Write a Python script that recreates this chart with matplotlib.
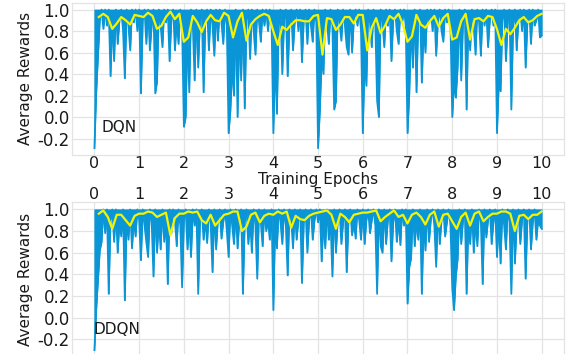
import numpy as np
import matplotlib
matplotlib.use("Agg")
import matplotlib.pyplot as plt

# ---------------- data ----------------
epoch_ticks = [0, 1, 2, 3, 4, 5, 6, 7, 8, 9, 10]
y_ticks = [-0.2, 0.0, 0.2, 0.4, 0.6, 0.8, 1.0]
reward_cap = 1.0

dqn_raw = [
    -0.29, 0.22, 0.57, 0.9, 1.0, 0.82, 1.0, 0.85, 1.0, 0.38, 0.9, 0.52, 1.0, 0.68, 0.9, 1.0, 0.8, 0.36, 1.0, 0.85, 0.62, 1.0, 0.88, 1.0, 0.8,
    1.0, 0.22, 0.9, 1.0, 0.68, 1.0, 0.62, 0.85, 1.0, 0.22, 0.33, 1.0, 0.85, 0.65, 1.0, 0.88, 1.0, 0.52, 0.9, 1.0, 0.62, 0.9, 0.68, 1.0, 0.85,
    -0.09, 0.0, 0.8, 0.23, 1.0, 0.85, 0.34, 1.0, 0.46, 0.9, 1.0, 0.23, 0.9, 1.0, 0.62, 1.0, 0.85, 0.57, 1.0, 0.71, 1.0, 0.88, 0.68, 1.0, 0.85,
    -0.15, 0.06, 0.46, 0.2, 1.0, 0.0, 0.85, 0.34, 1.0, 0.08, 0.9, 1.0, 0.54, 1.0, 0.8, 0.58, 1.0, 0.88, 0.7, 1.0, 0.85, 1.0, 0.8, 1.0, 0.88,
    -0.15, 0.52, 0.03, 0.85, 1.0, 0.4, 0.9, 1.0, 0.38, 0.85, 1.0, 0.62, 0.9, 1.0, 0.8, 1.0, 0.51, 0.9, 1.0, 0.68, 1.0, 0.85, 0.7, 1.0, 0.88,
    -0.29, 0.06, 0.54, 0.4, 1.0, 0.88, 0.68, 1.0, 0.85, 0.07, 0.15, 1.0, 0.88, 0.71, 1.0, 0.85, 0.65, 0.58, 1.0, 0.6, 0.9, 1.0, 0.85, 1.0, 0.8,
    -0.15, 0.52, 0.29, 1.0, 0.88, 0.65, 1.0, 0.85, 0.15, 0.0, 1.0, 0.88, 0.65, 1.0, 0.85, 1.0, 0.52, 0.9, 1.0, 0.8, 0.68, 1.0, 0.88, 1.0, 0.85,
    -0.15, 0.22, 0.85, 0.46, 1.0, 0.23, 0.9, 1.0, 0.32, 0.85, 0.6, 1.0, 0.88, 1.0, 0.8, 1.0, 0.57, 0.9, 1.0, 0.8, 0.7, 1.0, 0.88, 1.0, 0.85,
    0.0, 0.31, 0.18, 0.46, 1.0, 0.34, 0.88, 1.0, 0.07, 0.9, 0.62, 1.0, 0.85, 0.58, 1.0, 0.88, 0.57, 1.0, 0.85, 1.0, 0.65, 0.9, 1.0, 0.85, 1.0,
    -0.15, 0.31, 0.24, 0.9, 1.0, 0.52, 0.88, 1.0, 0.07, 0.85, 1.0, 0.62, 0.9, 1.0, 0.8, 1.0, 0.46, 0.88, 1.0, 0.68, 1.0, 0.85, 0.9, 1.0, 0.74,
    0.76,
]

dqn_avg = [
    0.93, 0.96, 0.93, 0.82, 0.87, 0.93, 0.90, 0.86, 0.95, 0.94,
    0.93, 0.97, 0.94, 0.82, 0.85, 0.93, 0.98, 0.91, 0.96, 0.70,
    0.74, 0.94, 0.88, 0.79, 0.89, 0.95, 0.90, 0.89, 0.97, 0.94,
    0.74, 0.89, 0.97, 0.71, 0.86, 0.91, 0.94, 0.96, 0.94, 0.80,
    0.67, 0.84, 0.81, 0.86, 0.90, 0.90, 0.89, 0.89, 0.94, 0.95,
    0.58, 0.92, 0.91, 0.81, 0.86, 0.93, 0.93, 0.87, 0.95, 0.95,
    0.62, 0.83, 0.92, 0.78, 0.85, 0.94, 0.91, 0.96, 0.86, 0.70,
    0.75, 0.95, 0.86, 0.83, 0.89, 0.94, 0.84, 0.92, 0.96, 0.72,
    0.74, 0.89, 0.96, 0.72, 0.91, 0.92, 0.89, 0.94, 0.93, 0.82,
    0.67, 0.82, 0.77, 0.83, 0.90, 0.93, 0.88, 0.90, 0.94, 0.96,
]

ddqn_raw = [
    -0.3, 0.07, 0.35, 0.62, 0.7, 1.0, 0.78, 1.0, 0.22, 0.9, 1.0, 0.7, 1.0, 0.6, 0.88, 0.75, 1.0, 0.16, 0.9, 0.72, 1.0, 0.64, 0.9, 0.75, 1.0,
    0.9, 0.53, 1.0, 0.85, 0.7, 0.56, 1.0, 0.88, 0.38, 1.0, 0.6, 0.9, 0.63, 1.0, 0.7, 0.88, 0.31, 1.0, 0.78, 1.0, 0.9, 0.66, 1.0, 0.85, 0.28,
    0.9, 1.0, 0.63, 0.88, 0.56, 1.0, 0.85, 1.0, 0.22, 0.9, 1.0, 0.72, 0.9, 0.69, 1.0, 0.85, 0.42, 1.0, 0.63, 0.9, 1.0, 0.73, 0.88, 1.0, 0.8,
    0.56, 1.0, 0.85, 0.68, 1.0, 0.64, 0.9, 1.0, 0.22, 0.88, 1.0, 0.68, 0.9, 0.6, 1.0, 0.85, 0.36, 1.0, 0.88, 0.66, 1.0, 0.8, 0.9, 0.72, 1.0,
    0.07, 0.85, 0.64, 1.0, 0.88, 0.68, 1.0, 0.85, 0.39, 1.0, 0.9, 0.64, 1.0, 0.72, 0.9, 1.0, 0.32, 0.88, 1.0, 0.6, 0.9, 1.0, 0.72, 0.9, 1.0,
    0.88, 1.0, 0.52, 0.9, 0.64, 1.0, 0.72, 0.88, 0.38, 1.0, 0.6, 0.9, 1.0, 0.68, 0.88, 1.0, 0.42, 0.9, 1.0, 0.76, 0.88, 0.73, 1.0, 0.9, 0.72,
    1.0, 0.68, 0.9, 1.0, 0.78, 0.9, 1.0, 0.85, 0.22, 1.0, 0.66, 0.6, 1.0, 0.68, 0.9, 1.0, 0.52, 0.88, 1.0, 0.7, 0.9, 0.67, 1.0, 0.85, 1.0,
    0.13, 0.47, 0.55, 1.0, 0.66, 0.9, 0.72, 1.0, 0.22, 0.88, 0.62, 1.0, 0.7, 0.9, 1.0, 0.85, 0.47, 1.0, 0.68, 0.9, 1.0, 0.75, 0.88, 1.0, 0.85,
    0.27, 0.07, 0.38, 0.54, 1.0, 0.68, 0.9, 1.0, 0.22, 0.88, 0.68, 1.0, 0.6, 0.9, 0.66, 1.0, 0.88, 0.31, 1.0, 0.74, 0.9, 1.0, 0.68, 0.88, 1.0,
    0.56, 0.9, 0.5, 1.0, 0.85, 0.63, 1.0, 0.88, 0.22, 1.0, 0.5, 0.85, 1.0, 0.68, 0.9, 1.0, 0.36, 0.9, 1.0, 0.63, 0.88, 1.0, 0.72, 0.9, 0.85,
    0.82,
]

ddqn_avg = [
    0.96, 0.99, 0.93, 0.82, 0.95, 0.95, 0.90, 0.85, 0.94, 0.96,
    0.96, 0.98, 0.97, 0.93, 0.95, 0.97, 0.76, 0.92, 0.96, 0.96,
    0.98, 0.97, 0.98, 0.90, 0.87, 0.95, 0.85, 0.90, 0.95, 0.96,
    0.98, 0.98, 0.80, 0.84, 0.95, 0.97, 0.88, 0.94, 0.96, 0.95,
    0.98, 0.96, 0.98, 0.83, 0.94, 0.91, 0.90, 0.94, 0.96, 0.97,
    0.98, 0.99, 0.95, 0.82, 0.96, 0.93, 0.88, 0.95, 0.96, 0.97,
    0.97, 0.98, 0.99, 0.89, 0.93, 0.96, 0.99, 0.93, 0.95, 0.87,
    0.95, 0.97, 0.93, 0.86, 0.95, 0.98, 0.84, 0.95, 0.96, 0.89,
    0.82, 0.93, 0.97, 0.85, 0.96, 0.98, 0.89, 0.93, 0.96, 0.96,
    0.98, 0.98, 0.96, 0.80, 0.94, 0.95, 0.91, 0.95, 0.95, 0.98,
]

labels = ["DQN", "DDQN"]

# ---------------- style ----------------
BLUE = "#0a96d6"
YELLOW = "#f4f400"
GRID = "#e3e3e3"
TXT = "#1a1a1a"
plt.rcParams["font.family"] = ["DejaVu Sans"]

fig = plt.figure(figsize=(5.66, 3.54), dpi=100)
ax_top = fig.add_axes([0.1272, 0.5616, 0.8693, 0.4313])
ax_bot = fig.add_axes([0.1272, -0.006, 0.8693, 0.4345])

def draw(ax, raw, avg, name, text_xy):
    x_raw = np.linspace(0, 10, len(raw))
    x_avg = np.linspace(0.1, 10, len(avg))
    ax.fill_between(x_raw, raw, reward_cap, facecolor=BLUE, edgecolor=BLUE,
                    lw=0.6, zorder=2)
    ax.plot(x_raw, raw, color=BLUE, lw=1.2, zorder=2)
    ax.plot(x_avg, avg, color=YELLOW, lw=1.6, zorder=3)
    ax.set_xlim(-0.5, 10.5)
    ax.set_ylim(-0.355, 1.065)
    ax.set_xticks(epoch_ticks)
    ax.set_yticks(y_ticks)
    ax.yaxis.set_major_formatter(matplotlib.ticker.FormatStrFormatter("%.1f"))
    ax.grid(True, color=GRID, lw=0.9, zorder=0)
    ax.set_axisbelow(True)
    for s in ax.spines.values():
        s.set_color(GRID)
        s.set_linewidth(0.9)
    ax.tick_params(axis="x", length=0, labelsize=11.5, colors=TXT, pad=0.5)
    ax.tick_params(axis="y", length=0, labelsize=12, colors=TXT, pad=1.5)
    ax.set_ylabel("Average Rewards", fontsize=11, color=TXT, labelpad=3)
    ax.text(text_xy[0], text_xy[1], name, fontsize=11, color=TXT,
            ha="left", va="center", zorder=4)

draw(ax_top, dqn_raw, dqn_avg, labels[0], (0.17, -0.1))
ax_top.set_xlabel("Training Epochs", fontsize=11, color=TXT, labelpad=1)

draw(ax_bot, ddqn_raw, ddqn_avg, labels[1], (-0.02, -0.11))
ax_bot.xaxis.tick_top()

fig.savefig("out.png", dpi=100)
